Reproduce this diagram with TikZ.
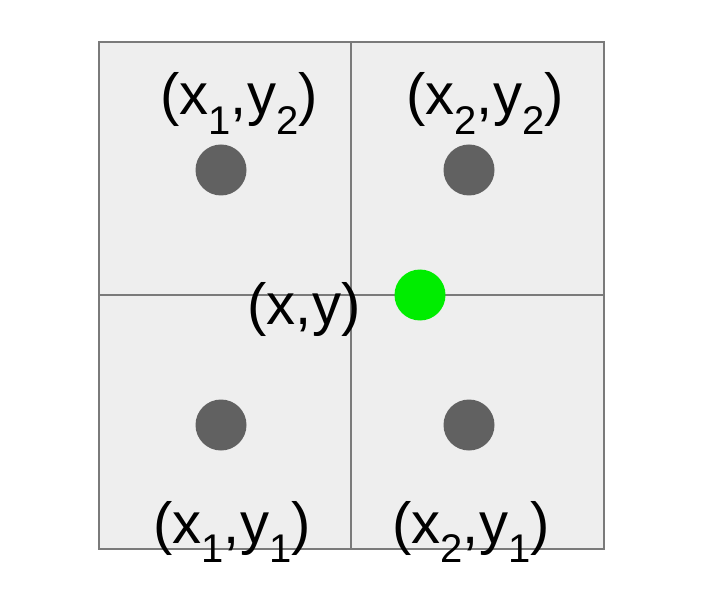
\documentclass[tikz,border=0pt]{standalone}
\usepackage{fontspec}
\setmainfont{Liberation Sans}
\newcommand\lsub[1]{\raisebox{-0.34em}{\fontsize{40}{42}\selectfont #1}}
\begin{document}
\begin{tikzpicture}[x=1pt,y=1pt,
  gridline/.style={draw=black!52,line width=2.2pt},
  cell/.style={fill=black!6.5},
  gdot/.style={circle,fill=black!62,minimum size=51pt,inner sep=0pt},
  pdot/.style={circle,fill=green!93!black,minimum size=51pt,inner sep=0pt},
  lbl/.style={anchor=base,inner sep=0pt,font=\fontsize{58}{64}\selectfont}]
\useasboundingbox (0,0) rectangle (708,592);
\fill[white] (0,0) rectangle (708,592);
\coordinate (tl) at (99,550);
\coordinate (br) at (604,43);
\coordinate (tm) at (351,550);
\coordinate (bm) at (351,43);
\coordinate (lm) at (99,297);
\coordinate (rm) at (604,297);
\fill[cell] (tl) rectangle (br);
\draw[gridline] (tm) -- (bm);
\draw[gridline] (lm) -- (rm);
\draw[gridline] (tl) rectangle (br);
\node[gdot] (q12) at (221,422) {};
\node[gdot] (q22) at (469,422) {};
\node[gdot] (q11) at (221,167) {};
\node[gdot] (q21) at (469,167) {};
\node[pdot] (p) at (420,297) {};
\node[lbl] (l12) at (239,477) {(x\lsub{1},y\lsub{2})};
\node[lbl] (l22) at (485,477) {(x\lsub{2},y\lsub{2})};
\node[lbl] (l11) at (232,49) {(x\lsub{1},y\lsub{1})};
\node[lbl] (l21) at (471,49) {(x\lsub{2},y\lsub{1})};
\node[lbl] (lp) at (304,268) {(x,y)};
\end{tikzpicture}
\end{document}
